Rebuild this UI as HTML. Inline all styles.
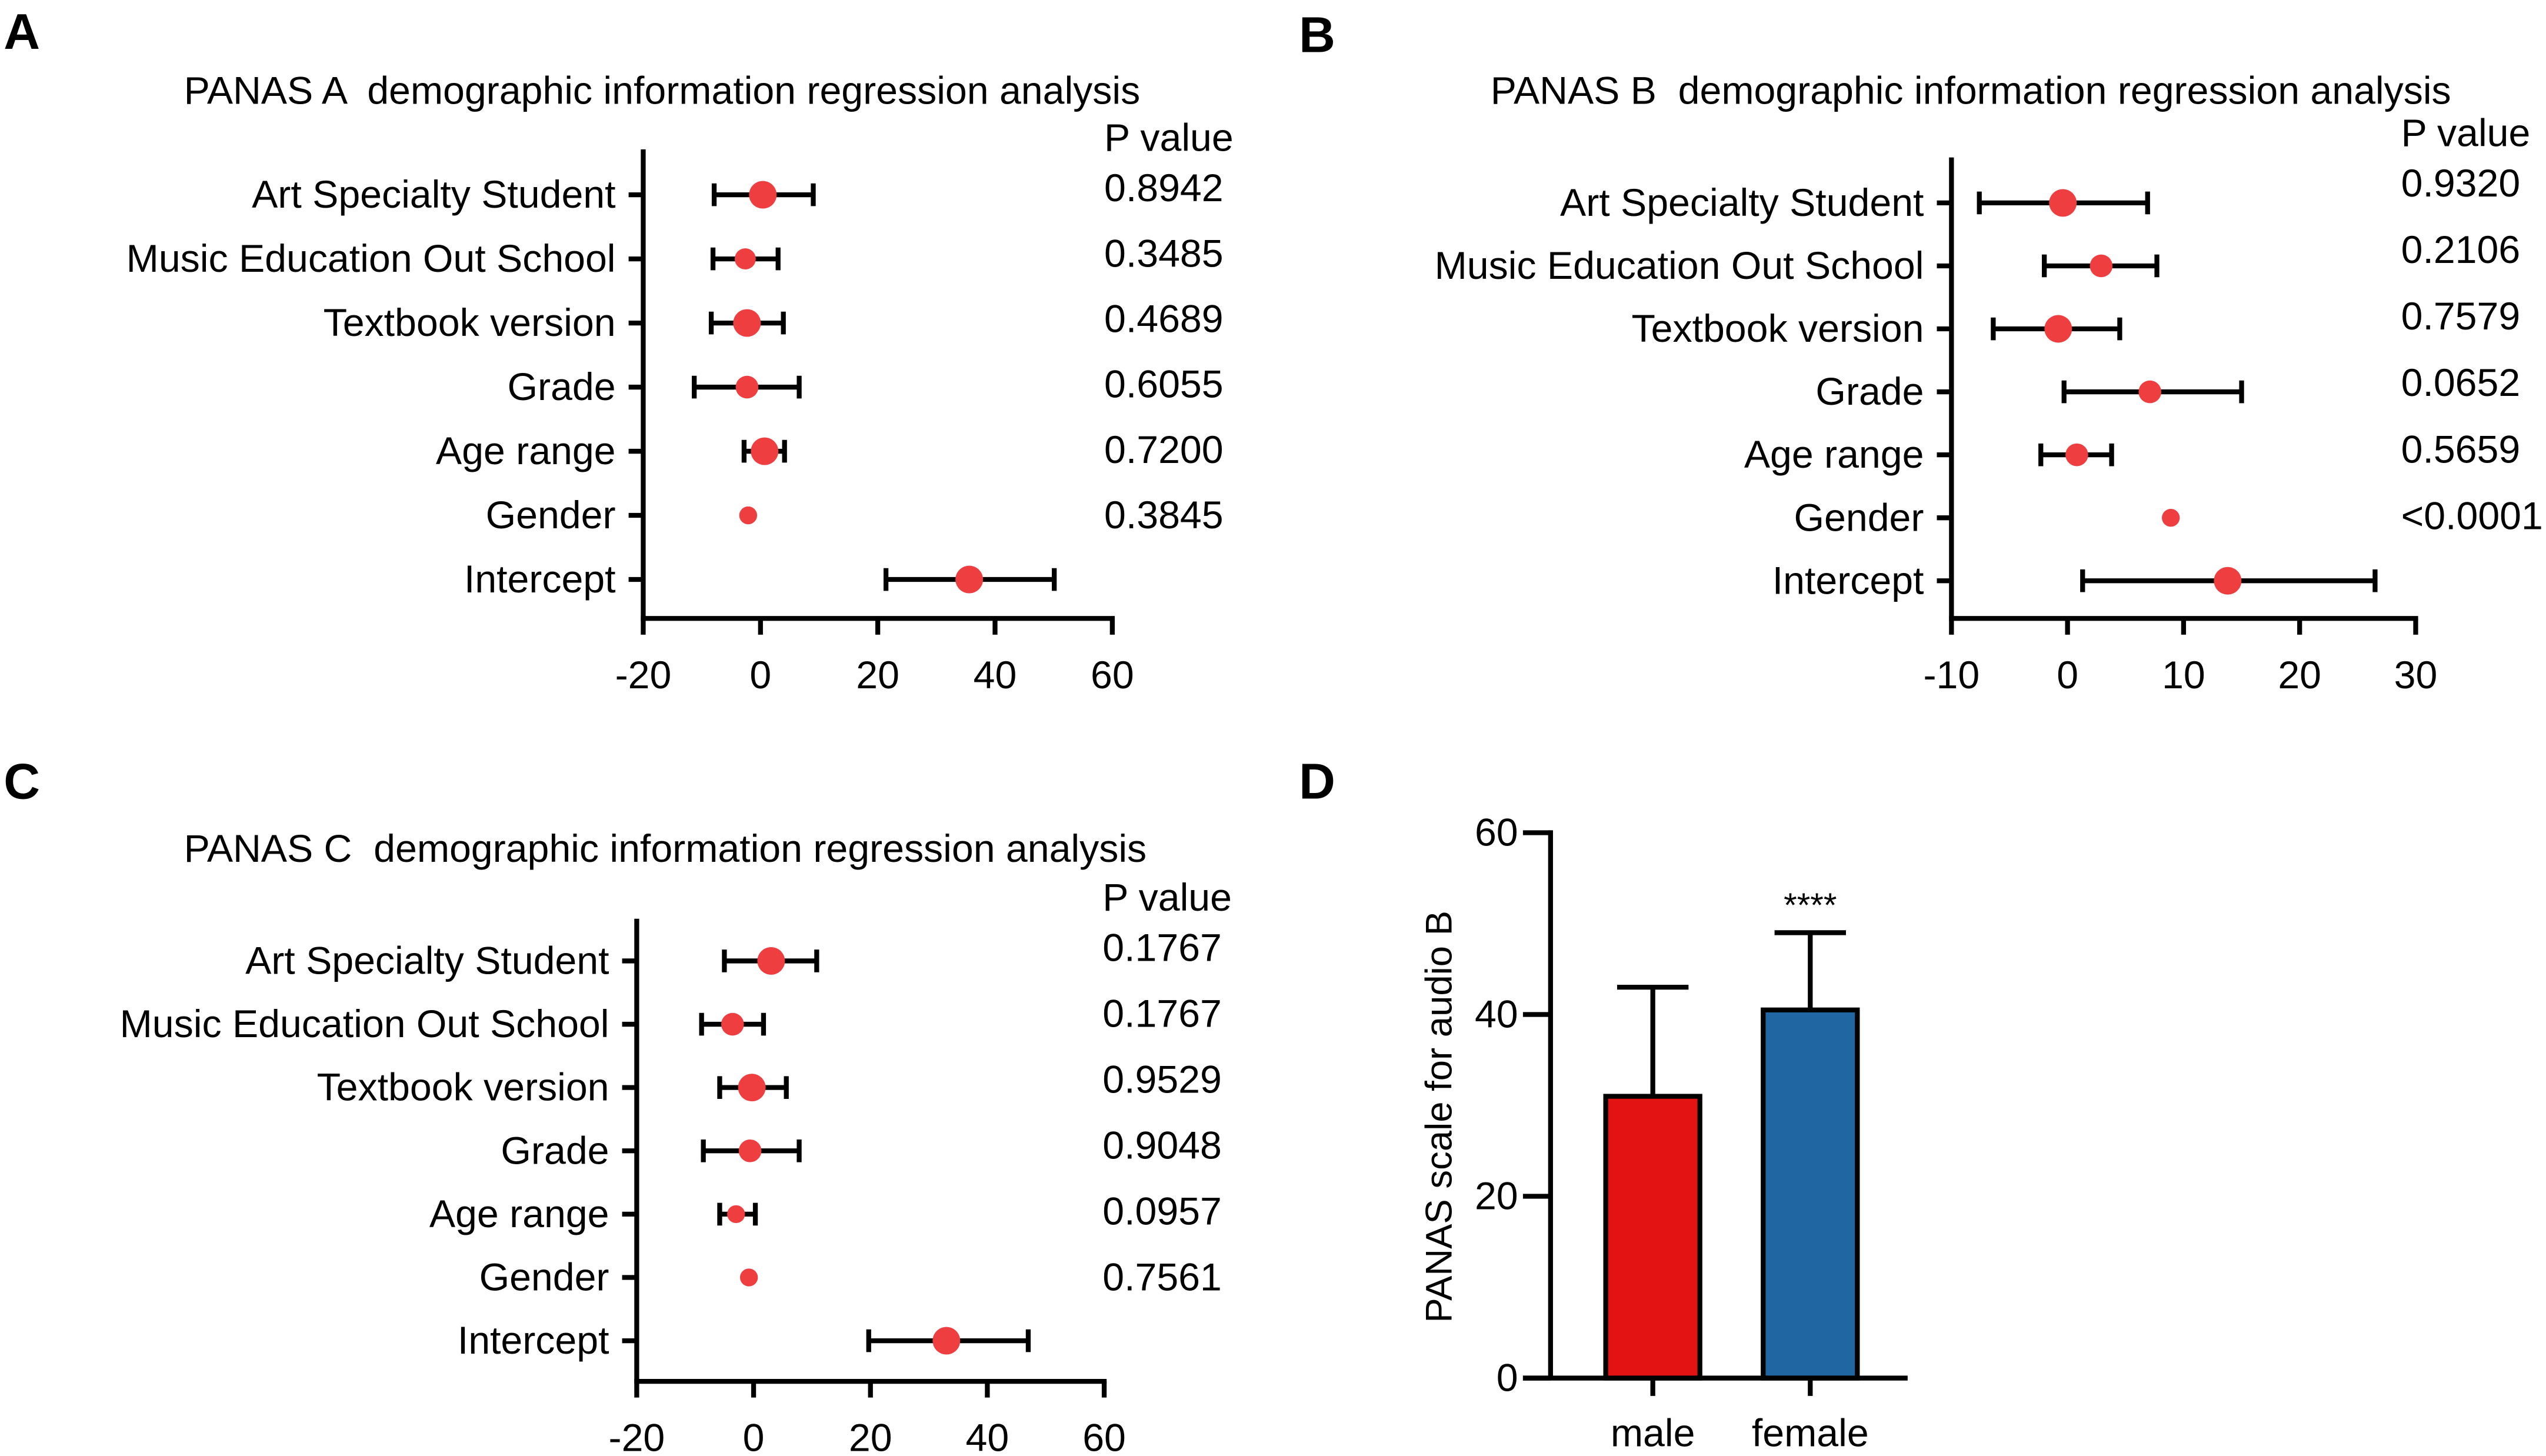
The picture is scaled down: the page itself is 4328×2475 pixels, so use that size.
<!DOCTYPE html>
<html><head><meta charset="utf-8"><style>
html,body{margin:0;padding:0;background:#fff;}
svg{display:block;font-family:"Liberation Sans",Arial,sans-serif;}
text{white-space:pre;}
</style></head><body>
<svg id="fig" width="4328" height="2475" viewBox="0 0 1568 897" xmlns="http://www.w3.org/2000/svg"></svg>
<script>
// ---- data ----
const rowLabels = ["Art Specialty Student","Music Education Out School","Textbook version","Grade","Age range","Gender","Intercept"];
const aEst = [0.4,-2.6,-2.3,-2.3,0.7,-2.1,35.6];
const aLo  = [-7.9,-8.1,-8.4,-11.3,-2.8,null,21.4];
const aHi  = [9.0,3.0,3.9,6.6,4.1,null,50.1];
const aR   = [8.5,6.5,8.5,7,8.5,5.5,8.5];
const aP   = ["0.8942","0.3485","0.4689","0.6055","0.7200","0.3845"];
const aTicks = [-20,0,20,40,60];

const bEst = [-0.4,2.9,-0.8,7.1,0.8,8.9,13.8];
const bLo  = [-7.6,-2.0,-6.4,-0.3,-2.3,null,1.3];
const bHi  = [6.9,7.7,4.5,15.0,3.8,null,26.5];
const bR   = [8.5,7,8.5,7,7,5.5,8.5];
const bP   = ["0.9320","0.2106","0.7579","0.0652","0.5659","<0.0001"];
const bTicks = [-10,0,10,20,30];

const cEst = [3.0,-3.6,-0.3,-0.6,-3.0,-0.8,33.0];
const cLo  = [-5.0,-8.9,-5.8,-8.6,-5.8,null,19.7];
const cHi  = [10.8,1.7,5.6,7.8,0.3,null,47.0];
const cR   = [8.5,7,8.5,7,5.5,5.5,8.5];
const cP   = ["0.1767","0.1767","0.9529","0.9048","0.0957","0.7561"];
const cTicks = [-20,0,20,40,60];

const dCats = ["male","female"];
const dVals = [31.0,40.5];
const dErr  = [43.0,49.0];
const dTicks = [0,20,40,60];
</script>
<script>
const NS="http://www.w3.org/2000/svg";
const svg=document.getElementById('fig');
const FS=24;
function mk(tag,attrs,parent){const e=document.createElementNS(NS,tag);for(const k in attrs)e.setAttribute(k,attrs[k]);(parent||svg).appendChild(e);return e;}
function txt(x,y,s,size,anchor,parent,weight){const t=mk('text',{x:x,y:y,'font-size':size,'text-anchor':anchor||'start',fill:'#000'},parent);if(weight)t.setAttribute('font-weight',weight);t.textContent=s;return t;}

function forest(cfg){
  const g=mk('g',{});
  
  
  const ticks=cfg.ticks, x0=cfg.axisX, x1=cfg.axisX2;
  const xs=v=>x0+(v-ticks[0])/(ticks[ticks.length-1]-ticks[0])*(x1-x0);
  const ys=i=>cfg.row0+i*cfg.rowStep;
  const title=txt(cfg.titleX,cfg.titleY,cfg.title,FS,'start',g);
  
  
  const ph=txt(cfg.pX,cfg.pHeadY,'P value',FS,'start',g);
  
  
  const ya=mk('line',{x1:x0,y1:cfg.top,x2:x0,y2:cfg.bottom,stroke:'#000','stroke-width':3},g);
  
  
  const xa=mk('line',{x1:x0-1.5,y1:cfg.bottom,x2:x1+1.5,y2:cfg.bottom,stroke:'#000','stroke-width':3},g);
  
  
  ticks.forEach(t=>{
    mk('line',{x1:xs(t),y1:cfg.bottom,x2:xs(t),y2:cfg.bottom+10,stroke:'#000','stroke-width':3},g);
    const tl=txt(xs(t),cfg.bottom+43,String(t),FS,'middle',g);
    
    
  });
  rowLabels.forEach((lab,i)=>{
    const y=ys(i);
    mk('line',{x1:x0-9,y1:y,x2:x0,y2:y,stroke:'#000','stroke-width':3},g);
    const l=txt(x0-17,y+8,lab,FS,'end',g);
    
    
    if(cfg.lo[i]!==null){
      const ci=mk('g',{},g);
      
      
      mk('line',{x1:xs(cfg.lo[i]),y1:y,x2:xs(cfg.hi[i]),y2:y,stroke:'#000','stroke-width':3},ci);
      mk('line',{x1:xs(cfg.lo[i]),y1:y-7,x2:xs(cfg.lo[i]),y2:y+7,stroke:'#000','stroke-width':3},ci);
      mk('line',{x1:xs(cfg.hi[i]),y1:y-7,x2:xs(cfg.hi[i]),y2:y+7,stroke:'#000','stroke-width':3},ci);
    }
    const d=mk('circle',{cx:xs(cfg.est[i]),cy:y,r:cfg.r[i],fill:'#ef3e40'},g);
    
    
    if(i<cfg.p.length){
      const p=txt(cfg.pX,cfg.pY0+i*cfg.pStep,cfg.p[i],FS,'start',g);
      
      
    }
  });
}

forest({name:'panel-a-forest',title:'PANAS A  demographic information regression analysis',titleX:113,titleY:64,
  ticks:aTicks,axisX:396,axisX2:685,top:92,bottom:381,row0:120,rowStep:39.5,
  est:aEst,lo:aLo,hi:aHi,r:aR,p:aP,pX:680,pHeadY:93,pY0:124,pStep:40.3});
forest({name:'panel-b-forest',title:'PANAS B  demographic information regression analysis',titleX:918,titleY:64,
  ticks:bTicks,axisX:1202,axisX2:1488,top:97,bottom:381,row0:125,rowStep:38.8,
  est:bEst,lo:bLo,hi:bHi,r:bR,p:bP,pX:1479,pHeadY:90,pY0:121,pStep:41});
forest({name:'panel-c-forest',title:'PANAS C  demographic information regression analysis',titleX:113,titleY:531,
  ticks:cTicks,axisX:392,axisX2:680,top:566,bottom:851,row0:592,rowStep:39,
  est:cEst,lo:cLo,hi:cHi,r:cR,p:cP,pX:679,pHeadY:561,pY0:592,pStep:40.6});

// Panel letters
[['A',2,30],['B',800,32],['C',2,492],['D',800,492]].forEach(a=>{
  const t=txt(a[1],a[2],a[0],31,'start',svg,'bold');
  
  
});

// Panel D bar chart
(function(){
  const g=mk('g',{});
  
  
  const ax=955, y0=849, yTop=513;
  const ys=v=>y0-(v-dTicks[0])/(dTicks[dTicks.length-1]-dTicks[0])*(y0-yTop);
  const xc=i=>1018+i*97, bw=58;
  dCats.forEach((c,i)=>{
    const col=i===0?'#e41313':'#1f66a2';
    const e=mk('g',{},g);
    
    
    mk('line',{x1:xc(i),y1:ys(dVals[i]),x2:xc(i),y2:ys(dErr[i]),stroke:'#000','stroke-width':3},e);
    mk('line',{x1:xc(i)-22,y1:ys(dErr[i]),x2:xc(i)+22,y2:ys(dErr[i]),stroke:'#000','stroke-width':3},e);
    const b=mk('rect',{x:xc(i)-bw/2,y:ys(dVals[i]),width:bw,height:y0-ys(dVals[i]),fill:col,stroke:'#000','stroke-width':3},g);
    
    
    mk('line',{x1:xc(i),y1:y0,x2:xc(i),y2:y0+11,stroke:'#000','stroke-width':3},g);
    const l=txt(xc(i),y0+42,c,FS,'middle',g);
    
    
  });
  const ya=mk('line',{x1:ax,y1:yTop-1.5,x2:ax,y2:y0,stroke:'#000','stroke-width':3},g);
  
  
  const xa=mk('line',{x1:ax-17,y1:y0,x2:1175,y2:y0,stroke:'#000','stroke-width':3},g);
  
  
  dTicks.forEach(t=>{
    mk('line',{x1:ax-17,y1:ys(t),x2:ax,y2:ys(t),stroke:'#000','stroke-width':3},g);
    const tl=txt(ax-20,ys(t)+8,String(t),FS,'end',g);
    
    
  });
  const yt=txt(0,0,'PANAS scale for audio B',23,'middle',g);
  yt.setAttribute('transform','translate(894,688) rotate(-90)');
  
  
  const s=txt(xc(1),ys(dErr[1])-10,'****',21,'middle',g);
  
  
})();
</script>
</body></html>
